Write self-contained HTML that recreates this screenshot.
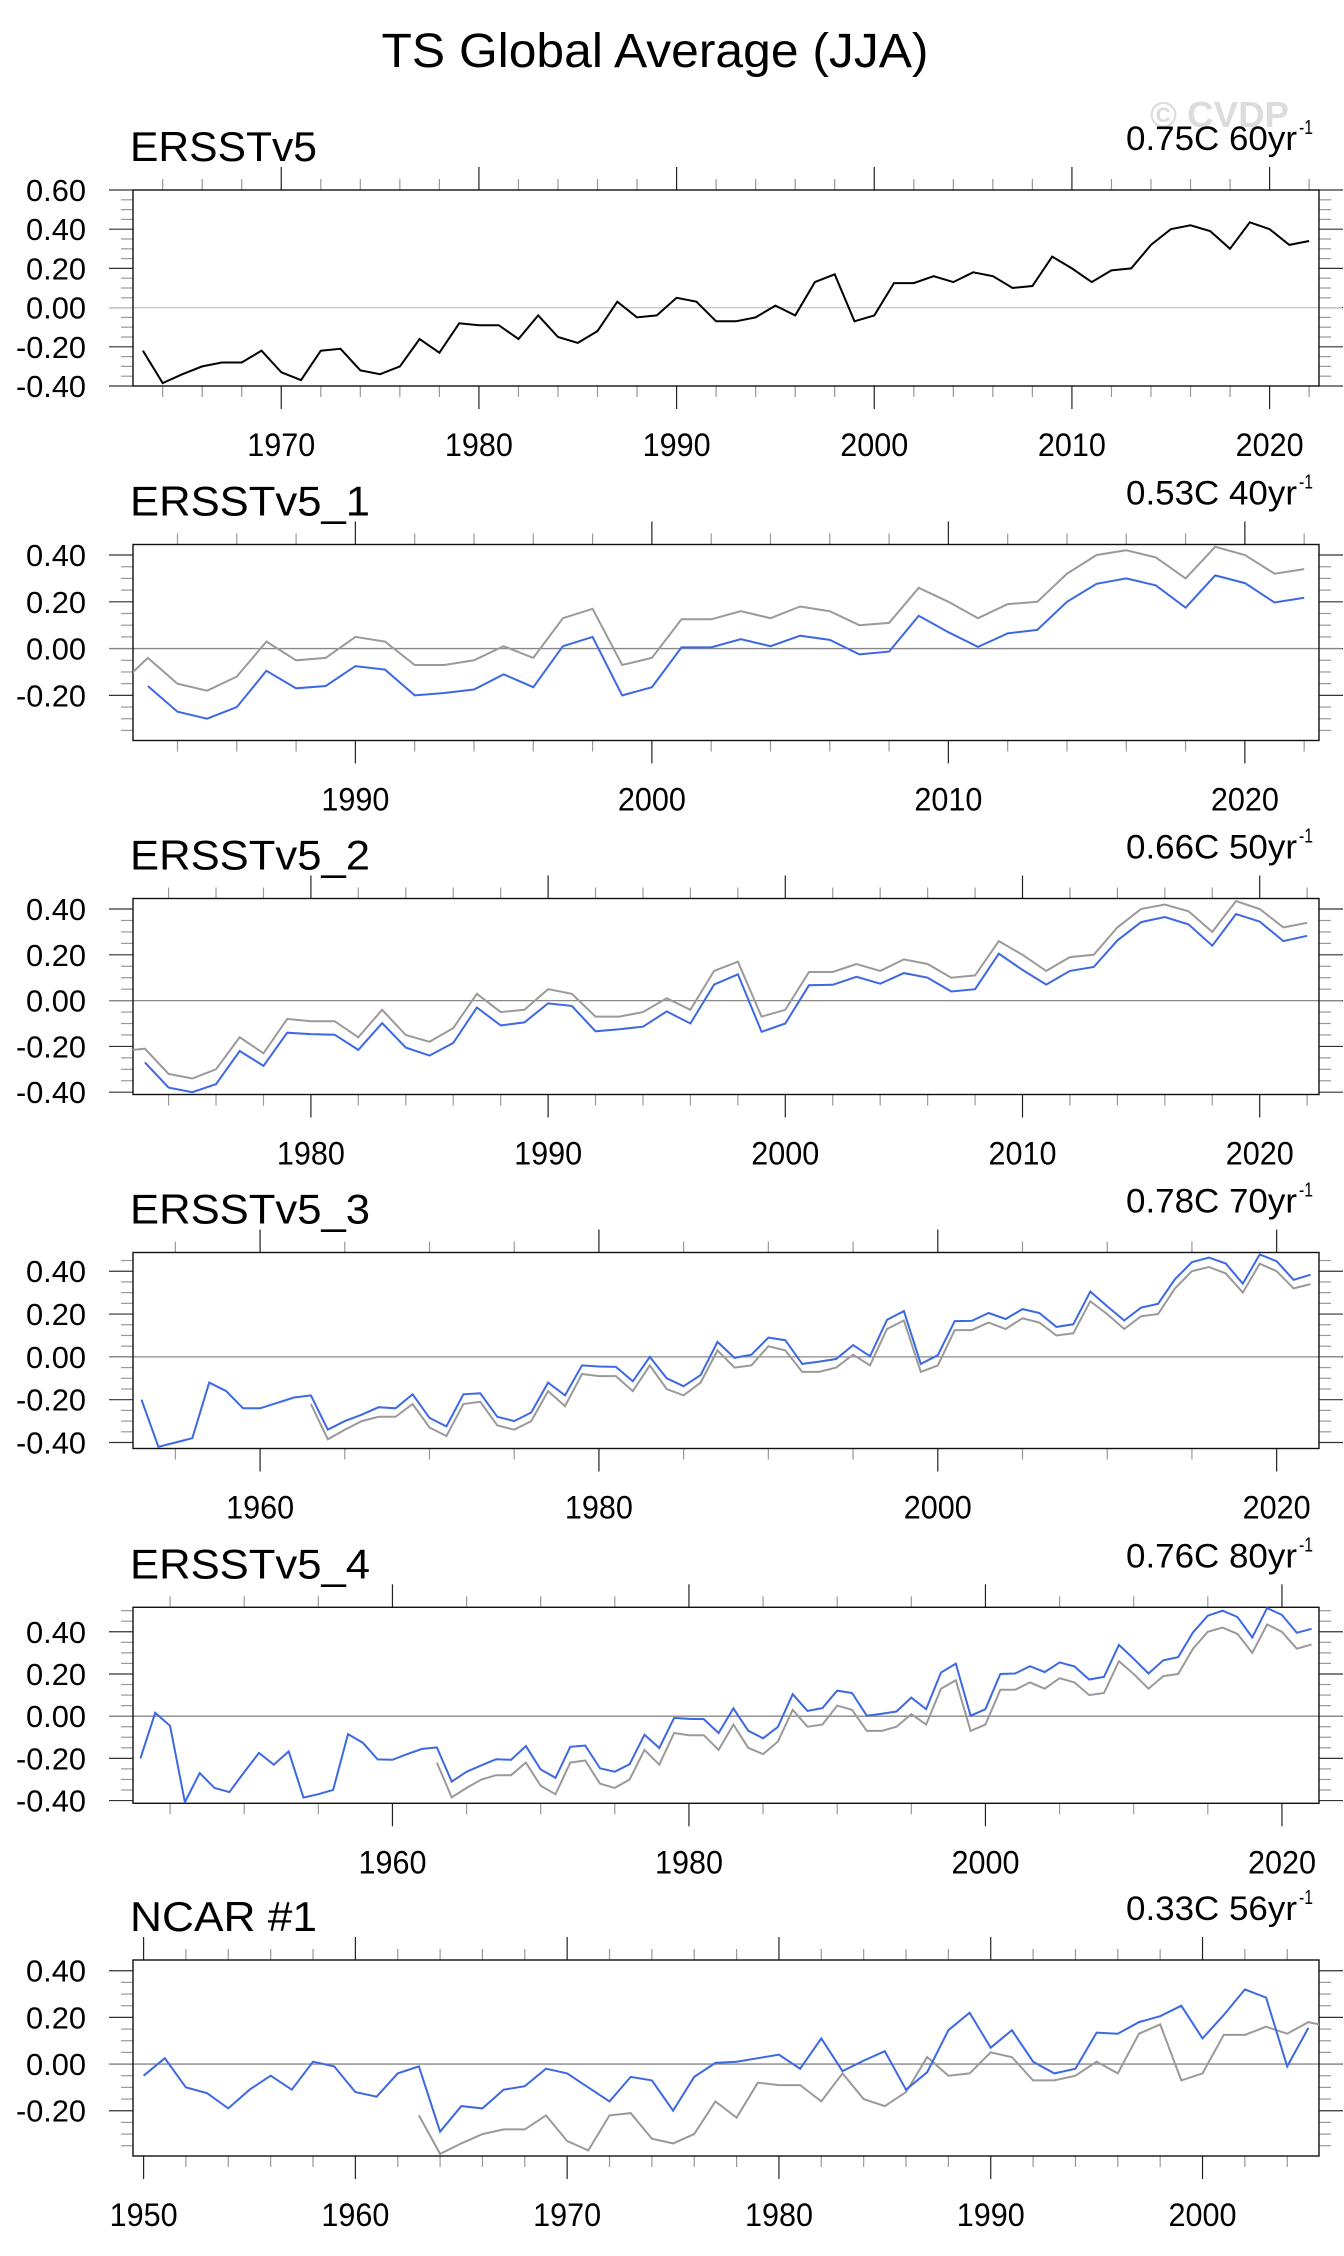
<!DOCTYPE html>
<html><head><meta charset="utf-8"><style>
html,body{margin:0;padding:0;background:#fff;}
svg{display:block;font-family:"Liberation Sans",sans-serif;}
</style></head><body>
<svg id="chart" width="1344" height="2256" viewBox="0 0 1344 2256" xmlns="http://www.w3.org/2000/svg">
<text x="655" y="67" font-size="48" text-anchor="middle" textLength="547" lengthAdjust="spacingAndGlyphs">TS Global Average (JJA)</text>
<text x="1150" y="127" font-size="36" font-weight="bold" fill="#dcdcdc" textLength="139" lengthAdjust="spacingAndGlyphs">© CVDP</text>
</svg>
<script>
const ersstYears0 = 1963;
const ersst = [-0.22,-0.385,-0.34,-0.30,-0.28,-0.28,-0.22,-0.33,-0.37,-0.22,-0.21,-0.32,-0.34,-0.30,-0.16,-0.23,-0.08,-0.09,-0.09,-0.16,-0.04,-0.15,-0.18,-0.12,0.03,-0.05,-0.04,0.05,0.03,-0.07,-0.07,-0.05,0.01,-0.04,0.13,0.17,-0.07,-0.04,0.125,0.125,0.16,0.13,0.18,0.16,0.10,0.11,0.26,0.20,0.13,0.19,0.20,0.32,0.40,0.42,0.39,0.30,0.435,0.40,0.32,0.34];
const blue1Start = 1983;
const blue1 = [-0.16,-0.27,-0.30,-0.25,-0.095,-0.17,-0.16,-0.075,-0.09,-0.20,-0.19,-0.175,-0.11,-0.165,0.01,0.05,-0.20,-0.165,0.005,0.005,0.04,0.01,0.055,0.037,-0.025,-0.013,0.14,0.07,0.007,0.065,0.08,0.20,0.277,0.30,0.27,0.175,0.313,0.28,0.197,0.217];
const blue2Start = 1973;
const blue2 = [-0.27,-0.38,-0.40,-0.365,-0.22,-0.285,-0.14,-0.146,-0.149,-0.215,-0.098,-0.205,-0.24,-0.185,-0.03,-0.108,-0.095,-0.012,-0.023,-0.134,-0.125,-0.114,-0.047,-0.10,0.07,0.115,-0.136,-0.10,0.067,0.069,0.104,0.074,0.12,0.10,0.04,0.05,0.205,0.134,0.07,0.13,0.147,0.263,0.343,0.365,0.333,0.24,0.378,0.345,0.26,0.283];
const blue3Start = 1953;
const blue3 = [-0.20,-0.42,-0.40,-0.38,-0.12,-0.16,-0.24,-0.24,-0.215,-0.19,-0.18,-0.34,-0.30,-0.27,-0.235,-0.24,-0.175,-0.285,-0.325,-0.175,-0.17,-0.28,-0.30,-0.26,-0.12,-0.18,-0.04,-0.045,-0.047,-0.114,0.0,-0.10,-0.137,-0.085,0.07,-0.005,0.01,0.09,0.078,-0.033,-0.022,-0.01,0.055,0.003,0.173,0.214,-0.033,0.008,0.167,0.168,0.205,0.177,0.223,0.205,0.14,0.152,0.305,0.236,0.17,0.23,0.248,0.363,0.442,0.464,0.436,0.342,0.478,0.447,0.36,0.384];
const blue4Start = 1943;
const blue4 = [-0.20,0.016,-0.046,-0.408,-0.27,-0.34,-0.36,-0.265,-0.174,-0.23,-0.167,-0.386,-0.37,-0.35,-0.085,-0.126,-0.205,-0.207,-0.18,-0.155,-0.148,-0.31,-0.263,-0.233,-0.204,-0.207,-0.142,-0.253,-0.292,-0.145,-0.139,-0.247,-0.263,-0.228,-0.088,-0.151,-0.008,-0.013,-0.014,-0.08,0.037,-0.069,-0.105,-0.051,0.104,0.025,0.038,0.121,0.11,0.002,0.011,0.022,0.088,0.033,0.207,0.249,0.002,0.033,0.20,0.202,0.237,0.209,0.255,0.236,0.174,0.186,0.338,0.272,0.202,0.265,0.28,0.397,0.476,0.50,0.47,0.373,0.512,0.48,0.395,0.414];
const blue5Start = 1950;
const blue5 = [-0.05,0.025,-0.10,-0.125,-0.19,-0.11,-0.05,-0.11,0.01,-0.01,-0.12,-0.14,-0.04,-0.01,-0.29,-0.18,-0.19,-0.11,-0.095,-0.02,-0.04,-0.10,-0.16,-0.055,-0.07,-0.20,-0.055,0.005,0.01,0.025,0.04,-0.02,0.11,-0.03,0.015,0.055,-0.11,-0.035,0.145,0.22,0.07,0.145,0.01,-0.04,-0.02,0.135,0.13,0.18,0.205,0.25,0.11,0.21,0.32,0.285,-0.01,0.155];
const panelTitles = ["ERSSTv5","ERSSTv5_1","ERSSTv5_2","ERSSTv5_3","ERSSTv5_4","NCAR #1"];
const panelTrends = ["0.75C 60yr","0.53C 40yr","0.66C 50yr","0.78C 70yr","0.76C 80yr","0.33C 56yr"];
const yTickLabels = [-0.4,-0.2,0.0,0.2,0.4,0.6];

const NS="http://www.w3.org/2000/svg";
const svg=document.getElementById('chart');
function mk(tag,attrs,parent){const e=document.createElementNS(NS,tag);for(const k in attrs)e.setAttribute(k,attrs[k]);(parent||svg).appendChild(e);return e;}

const L=133,R=1319,H=196;
const panels=[
 {top:190,x0:1962.5,x1:2022.5,y0:-0.4,y1:0.6,maj:10,min:2,blue:null,bs:0,gray:false},
 {top:544.5,x0:1982.5,x1:2022.5,y0:-0.393,y1:0.445,maj:10,min:2,blue:blue1,bs:blue1Start,gray:true},
 {top:898.5,x0:1972.5,x1:2022.5,y0:-0.41,y1:0.446,maj:10,min:2,blue:blue2,bs:blue2Start,gray:true},
 {top:1252.5,x0:1952.5,x1:2022.5,y0:-0.428,y1:0.4875,maj:20,min:5,blue:blue3,bs:blue3Start,gray:true},
 {top:1607.3,x0:1942.5,x1:2022.5,y0:-0.413,y1:0.516,maj:20,min:5,blue:blue4,bs:blue4Start,gray:true},
 {top:1960,x0:1949.5,x1:2005.5,y0:-0.394,y1:0.446,maj:10,min:2,blue:blue5,bs:blue5Start,gray:true}
];
const defs=mk('defs',{});
panels.forEach((p,i)=>{
  const g=mk('g',{});
  
  
  const T=p.top,B=p.top+H;
  const xs=y=>L+(y-p.x0)/(p.x1-p.x0)*(R-L);
  const ys=v=>B-(v-p.y0)/(p.y1-p.y0)*H;
  const cp=mk('clipPath',{id:'clip'+i},defs);
  mk('rect',{x:L,y:T,width:R-L,height:H},cp);
  const t=mk('text',{x:130,y:T-29,'font-size':42,textLength:String(Math.round(panelTitles[i].length*26.7)),lengthAdjust:'spacingAndGlyphs'},g);
  t.textContent=panelTitles[i];
  
  
  const tr=mk('text',{x:1297,y:T-40,'font-size':34,'text-anchor':'end',textLength:'171',lengthAdjust:'spacingAndGlyphs'},g);
  tr.textContent=panelTrends[i];
  
  
  const sup=mk('text',{x:1299,y:T-56,'font-size':20,textLength:'14',lengthAdjust:'spacingAndGlyphs'},g);
  sup.textContent='-1';
  
  
  for(let k=Math.ceil(p.y0/0.05-1e-6);k*0.05<=p.y1+1e-6;k++){
    const v=k*0.05,yy=ys(v),major=(k%4===0);
    const len=major?24:12;
    mk('line',{x1:L-len,x2:L,y1:yy,y2:yy,stroke:major?'#333':'#999','stroke-width':1.2},g);
    mk('line',{x1:R,x2:R+len,y1:yy,y2:yy,stroke:major?'#333':'#999','stroke-width':1.2},g);
  }
  yTickLabels.forEach(v=>{
    if(v<p.y0-1e-6||v>p.y1+1e-6)return;
    const lab=mk('text',{x:86,y:ys(v)+11,'font-size':31,'text-anchor':'end',textLength:v<0?'70':'60',lengthAdjust:'spacingAndGlyphs'},g);
    lab.textContent=v.toFixed(2);
    
    
  });
  for(let yr=Math.ceil(p.x0/p.min)*p.min;yr<=p.x1;yr+=p.min){
    const xx=xs(yr),major=(yr%p.maj===0),len=major?23:11;
    const c=major?'#222':'#999';
    mk('line',{x1:xx,x2:xx,y1:T-len,y2:T,stroke:c,'stroke-width':1.2},g);
    mk('line',{x1:xx,x2:xx,y1:B,y2:B+len,stroke:c,'stroke-width':1.2},g);
    if(major){
      const lab=mk('text',{x:xx,y:B+70,'font-size':32,'text-anchor':'middle',textLength:'68',lengthAdjust:'spacingAndGlyphs'},g);
      lab.textContent=String(yr);
      
      
    }
  }
  const z=mk('line',{x1:109,x2:1342,y1:ys(0),y2:ys(0),stroke:i===0?'#c8c8c8':'#888','stroke-width':1.3},g);
  
  
  const fr=mk('rect',{x:L,y:T,width:R-L,height:H,fill:'none',stroke:'#111','stroke-width':1.4},g);
  
  
  const pts=(arr,start)=>arr.map((v,j)=>xs(start+j).toFixed(1)+','+ys(v).toFixed(1)).join(' ');
  if(!p.gray){
    const pl=mk('polyline',{points:pts(ersst,ersstYears0),fill:'none',stroke:'#000','stroke-width':2,'clip-path':'url(#clip'+i+')'},g);
    
    
  } else {
    const pl=mk('polyline',{points:pts(ersst,ersstYears0),fill:'none',stroke:'#9a9a9a','stroke-width':2,'clip-path':'url(#clip'+i+')'},g);
    
    
    const bl=mk('polyline',{points:pts(p.blue,p.bs),fill:'none',stroke:'#3d68e3','stroke-width':2,'clip-path':'url(#clip'+i+')'},g);
    
    
  }
});
</script>
</body></html>
